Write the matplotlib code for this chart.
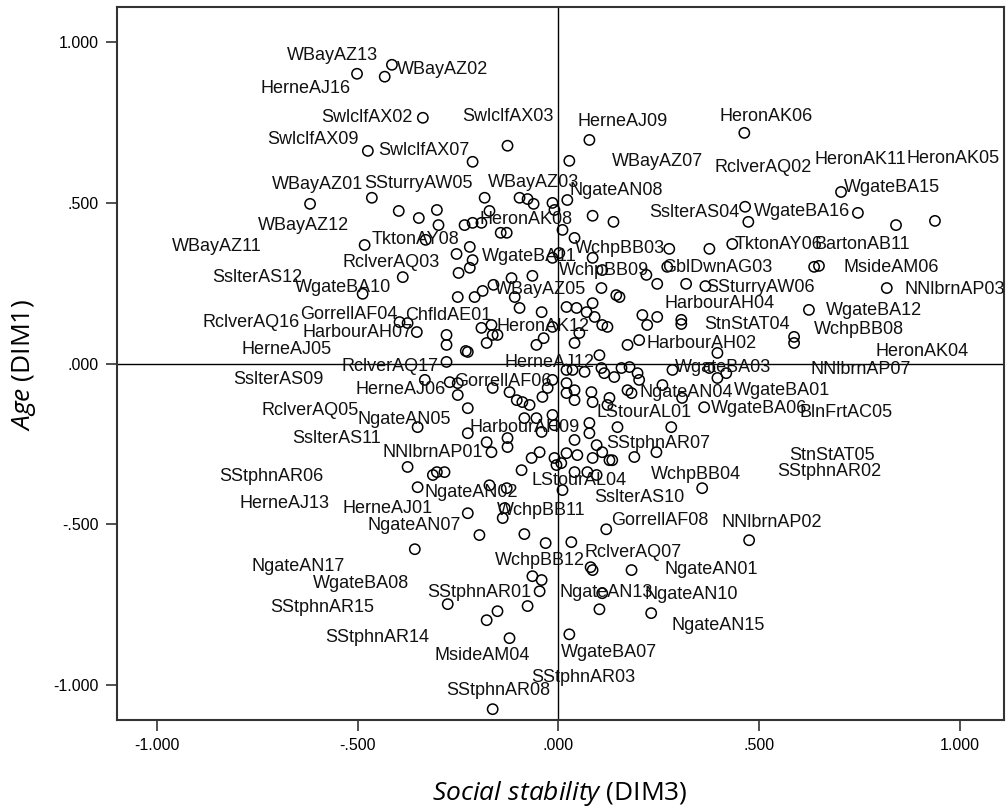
import matplotlib
matplotlib.use('Agg')
import matplotlib.pyplot as plt

plt.rcParams['font.family'] = ['Liberation Sans', 'DejaVu Sans']
plt.rcParams['mathtext.fontset'] = 'custom'
plt.rcParams['mathtext.it'] = 'Open Sans:italic'
plt.rcParams['mathtext.rm'] = 'Open Sans'

# object scores: Social stability (DIM3) vs Age (DIM1)
dim3 = [-0.502, -0.433, -0.415, -0.338, -0.127, -0.475, -0.214, 0.027, 0.077, 0.463,
        -0.619, -0.465, -0.398, -0.348, -0.303, -0.299, -0.184, -0.172, -0.097, -0.077,
        -0.062, -0.015, -0.010, -0.234, -0.214, -0.192, -0.144, -0.129, -0.483, -0.331,
        -0.221, 0.022, 0.085, 0.137, 0.040, 0.465, 0.473, 0.276, 0.376, 0.433,
        0.704, 0.746, 0.841, 0.938, 0.010, -0.254, -0.214, -0.249, -0.221, -0.388,
        -0.488, -0.251, -0.209, -0.189, -0.162, -0.117, -0.065, -0.109, -0.097, -0.042,
        -0.015, -0.396, -0.376, -0.353, -0.279, -0.279, -0.231, -0.226, -0.192, -0.167,
        -0.164, -0.152, -0.179, -0.055, -0.037, -0.015, -0.279, -0.333, -0.271, -0.251,
        -0.251, -0.164, -0.122, -0.104, -0.090, -0.072, -0.040, -0.027, -0.015, -0.226,
        -0.351, -0.226, -0.179, -0.167, -0.127, -0.127, -0.085, -0.055, -0.042, -0.015,
        -0.010, -0.376, -0.313, -0.303, -0.284, -0.172, -0.129, -0.092, -0.067, -0.047,
        -0.010, -0.005, -0.351, 0.002, 0.085, 0.109, 0.219, 0.271, 0.246, 0.318,
        0.366, 0.107, 0.144, 0.152, 0.020, 0.045, 0.070, 0.085, 0.090, 0.109,
        0.122, 0.209, 0.221, 0.246, 0.306, 0.306, 0.052, 0.040, 0.172, 0.201,
        0.396, 0.102, 0.020, 0.035, 0.065, 0.107, 0.114, 0.139, 0.157, 0.177,
        0.197, 0.201, 0.284, 0.376, 0.396, 0.418, 0.020, 0.040, 0.020, 0.040,
        0.082, 0.085, 0.127, 0.122, 0.172, 0.182, 0.259, 0.308, 0.363, 0.077,
        0.077, 0.147, 0.281, 0.040, 0.095, 0.109, 0.020, 0.047, 0.085, 0.127,
        0.134, 0.189, 0.244, 0.007, 0.040, 0.072, 0.095, 0.358, 0.637, 0.649,
        0.818, 0.624, 0.587, 0.587, -0.226, -0.134, -0.139, -0.197, -0.085, -0.032,
        -0.358, -0.065, -0.042, -0.047, -0.276, -0.152, -0.179, -0.077, -0.122, -0.164,
        0.010, 0.119, 0.032, 0.085, 0.182, 0.109, 0.102, 0.231, 0.027, 0.475,
        0.080]
dim1 = [0.902, 0.893, 0.930, 0.765, 0.678, 0.662, 0.628, 0.631, 0.696, 0.718,
        0.497, 0.516, 0.475, 0.453, 0.478, 0.431, 0.516, 0.475, 0.516, 0.512,
        0.497, 0.500, 0.478, 0.431, 0.438, 0.438, 0.407, 0.407, 0.369, 0.385,
        0.363, 0.509, 0.460, 0.441, 0.391, 0.488, 0.441, 0.357, 0.357, 0.372,
        0.534, 0.469, 0.431, 0.444, 0.416, 0.341, 0.322, 0.282, 0.298, 0.269,
        0.217, 0.207, 0.207, 0.226, 0.245, 0.266, 0.273, 0.207, 0.173, 0.160,
        0.329, 0.129, 0.126, 0.098, 0.089, 0.058, 0.039, 0.036, 0.111, 0.120,
        0.089, 0.089, 0.064, 0.058, 0.079, 0.114, 0.005, -0.051, -0.058, -0.061,
        -0.098, -0.076, -0.089, -0.114, -0.120, -0.129, -0.104, -0.076, -0.051, -0.139,
        -0.198, -0.217, -0.245, -0.276, -0.232, -0.260, -0.170, -0.170, -0.213, -0.160,
        -0.192, -0.322, -0.347, -0.338, -0.338, -0.379, -0.388, -0.332, -0.294, -0.276,
        -0.294, -0.316, -0.385, 0.344, 0.329, 0.291, 0.276, 0.301, 0.248, 0.248,
        0.241, 0.235, 0.213, 0.207, 0.176, 0.173, 0.160, 0.188, 0.145, 0.120,
        0.114, 0.151, 0.120, 0.145, 0.136, 0.123, 0.095, 0.064, 0.058, 0.073,
        0.033, 0.026, -0.020, -0.020, -0.026, -0.014, -0.030, -0.042, -0.014, -0.011,
        -0.030, -0.051, -0.020, -0.014, -0.045, -0.030, -0.061, -0.083, -0.092, -0.114,
        -0.089, -0.120, -0.107, -0.129, -0.083, -0.092, -0.067, -0.107, -0.136, -0.185,
        -0.217, -0.198, -0.198, -0.238, -0.254, -0.276, -0.279, -0.285, -0.294, -0.301,
        -0.301, -0.291, -0.276, -0.310, -0.338, -0.338, -0.347, -0.388, 0.301, 0.304,
        0.235, 0.167, 0.083, 0.064, -0.466, -0.450, -0.481, -0.534, -0.531, -0.559,
        -0.578, -0.662, -0.674, -0.709, -0.749, -0.771, -0.799, -0.755, -0.855, -1.076,
        -0.394, -0.516, -0.556, -0.643, -0.643, -0.715, -0.765, -0.777, -0.843, -0.550,
        -0.634]

# case labels as printed by the plot, with where they sit (data units, left edge)
label_text = ['WBayAZ13', 'WBayAZ02', 'HerneAJ16', 'SwlclfAX02', 'SwlclfAX03', 'HerneAJ09',
              'HeronAK06', 'SwlclfAX09', 'SwlclfAX07', 'WBayAZ07', 'RclverAQ02', 'HeronAK11',
              'HeronAK05', 'WBayAZ01', 'SSturryAW05', 'WBayAZ03', 'NgateAN08', 'WgateBA15',
              'SslterAS04', 'WgateBA16', 'WBayAZ12', 'HeronAK08', 'WBayAZ11', 'TktonAY08',
              'WchpBB03', 'TktonAY06', 'BartonAB11', 'SslterAS12', 'RclverAQ03', 'WgateBA11',
              'WchpBB09', 'GblDwnAG03', 'MsideAM06', 'WgateBA10', 'WBayAZ05', 'SSturryAW06',
              'NNlbrnAP03', 'HarbourAH04', 'GorrellAF04', 'ChfldAE01', 'WgateBA12', 'RclverAQ16',
              'HeronAK12', 'StnStAT04', 'WchpBB08', 'HarbourAH07', 'HarbourAH02', 'HerneAJ05',
              'HeronAK04', 'RclverAQ17', 'HerneAJ12', 'WgateBA03', 'NNlbrnAP07', 'SslterAS09',
              'GorrellAF06', 'HerneAJ06', 'NgateAN04', 'WgateBA01', 'RclverAQ05', 'NgateAN05',
              'LStourAL01', 'WgateBA06', 'BlnFrtAC05', 'HarbourAH09', 'SslterAS11', 'SStphnAR07',
              'NNlbrnAP01', 'StnStAT05', 'SStphnAR06', 'WchpBB04', 'SStphnAR02', 'LStourAL04',
              'NgateAN02', 'SslterAS10', 'HerneAJ13', 'HerneAJ01', 'WchpBB11', 'GorrellAF08',
              'NNlbrnAP02', 'NgateAN07', 'RclverAQ07', 'WchpBB12', 'NgateAN17', 'NgateAN01',
              'WgateBA08', 'SStphnAR01', 'NgateAN13', 'NgateAN10', 'SStphnAR15', 'NgateAN15',
              'SStphnAR14', 'WgateBA07', 'MsideAM04', 'SStphnAR03', 'SStphnAR08']
label_x = [-0.677, -0.403, -0.743, -0.590, -0.241, 0.047, 0.400, -0.726, -0.450, 0.132,
           0.388, 0.637, 0.868, -0.714, -0.483, -0.177, 0.027, 0.711, 0.226, 0.488,
           -0.749, -0.196, -0.963, -0.465, 0.040, 0.438, 0.637, -0.863, -0.537, -0.192,
           0.002, 0.259, 0.711, -0.657, -0.159, 0.368, 0.861, 0.264, -0.644, -0.383,
           0.667, -0.888, -0.154, 0.363, 0.637, -0.637, 0.219, -0.791, 0.791, -0.540,
           -0.134, 0.289, 0.627, -0.811, -0.259, -0.507, 0.201, 0.438, -0.741, -0.502,
           0.095, 0.381, 0.600, -0.221, -0.664, 0.120, -0.438, 0.575, -0.846, 0.231,
           0.545, -0.067, -0.333, 0.090, -0.794, -0.537, -0.154, 0.132, 0.405, -0.475,
           0.065, -0.159, -0.764, 0.264, -0.612, -0.328, 0.002, 0.214, -0.719, 0.281,
           -0.582, 0.007, -0.308, -0.067, -0.279]
label_y = [0.958, 0.915, 0.855, 0.765, 0.770, 0.755, 0.769, 0.698, 0.662, 0.628,
           0.609, 0.634, 0.637, 0.556, 0.559, 0.565, 0.540, 0.547, 0.469, 0.472,
           0.431, 0.447, 0.363, 0.385, 0.357, 0.369, 0.369, 0.267, 0.316, 0.332,
           0.291, 0.298, 0.298, 0.238, 0.229, 0.238, 0.229, 0.188, 0.154, 0.148,
           0.164, 0.129, 0.114, 0.120, 0.105, 0.098, 0.061, 0.045, 0.036, -0.008,
           0.002, -0.011, -0.020, -0.051, -0.055, -0.080, -0.089, -0.083, -0.145, -0.173,
           -0.154, -0.139, -0.151, -0.198, -0.232, -0.248, -0.276, -0.285, -0.352, -0.347,
           -0.335, -0.363, -0.403, -0.416, -0.435, -0.450, -0.456, -0.488, -0.494, -0.503,
           -0.587, -0.612, -0.631, -0.640, -0.684, -0.712, -0.712, -0.718, -0.759, -0.815,
           -0.852, -0.899, -0.908, -0.977, -1.017]

fig = plt.figure(figsize=(10.07, 8.10), dpi=100)
ax = fig.add_axes([0.1162, 0.111, 0.8808, 0.8804])

ax.axhline(0, color='black', lw=1.0, zorder=1)
ax.axvline(0, color='black', lw=1.0, zorder=1)
ax.scatter(dim3, dim1, s=55, facecolors='none', edgecolors='black', linewidths=1.1, zorder=3)

for t, lx, ly in zip(label_text, label_x, label_y):
    ax.text(lx, ly, t, ha='left', va='center', fontsize=13, color='#111111', zorder=4)

ax.set_xlim(-1.10, 1.11)
ax.set_ylim(-1.11, 1.11)
ax.set_xticks([-1.0, -0.5, 0.0, 0.5, 1.0])
ax.set_xticklabels(['-1.000', '-.500', '.000', '.500', '1.000'])
ax.set_yticks([-1.0, -0.5, 0.0, 0.5, 1.0])
ax.set_yticklabels(['-1.000', '-.500', '.000', '.500', '1.000'])
ax.tick_params(direction='out', length=8, width=1.2, labelsize=11.5, pad=5, color='#333333')
for s in ax.spines.values():
    s.set_color('#333333')
    s.set_linewidth(1.5)

# axis titles: italic variable name + dimension
fig.text(560 / 1007, 1 - 793 / 810, r'$\mathit{Social\ stability}$ (DIM3)',
         fontsize=19, family='Open Sans', ha='center', va='center')
fig.text(24 / 1007, 1 - 365 / 810, r'$\mathit{Age}$ (DIM1)',
         fontsize=19, family='Open Sans', ha='center', va='center', rotation=90)

fig.savefig('out.png', dpi=100)
